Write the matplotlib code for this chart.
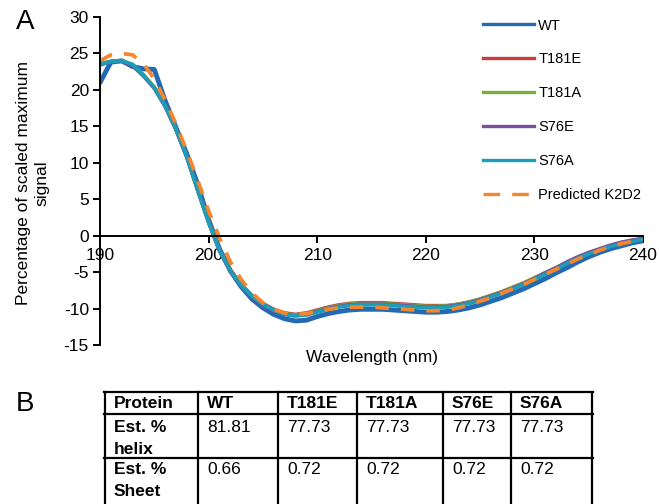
import matplotlib.pyplot as plt
from matplotlib.lines import Line2D

plt.rcParams['font.family'] = ['Liberation Sans', 'DejaVu Sans']
plt.rcParams['axes.unicode_minus'] = False

wavelength = list(range(190, 241))

wt = [21.0, 23.8, 24.0, 23.2, 22.9, 22.8, 18.5, 14.8, 11.2, 7.0,
      2.2, -1.8, -4.8, -7.0, -8.7, -9.9, -10.8, -11.4, -11.7, -11.6,
      -11.1, -10.7, -10.4, -10.2, -10.1, -10.1, -10.1, -10.2, -10.3, -10.4,
      -10.5, -10.5, -10.4, -10.2, -9.9, -9.5, -9.0, -8.5, -7.9, -7.3,
      -6.6, -5.9, -5.1, -4.4, -3.6, -2.9, -2.3, -1.8, -1.4, -1.0, -0.7]

t181e = [23.6, 23.9, 24.0, 23.4, 22.0, 20.3, 17.8, 14.6, 10.8, 6.3,
         2.0, -1.9, -4.7, -6.7, -8.2, -9.3, -10.1, -10.6, -10.8, -10.6,
         -10.2, -9.8, -9.5, -9.3, -9.2, -9.2, -9.2, -9.3, -9.4, -9.5,
         -9.6, -9.6, -9.6, -9.4, -9.1, -8.7, -8.2, -7.7, -7.1, -6.5,
         -5.8, -5.1, -4.4, -3.7, -3.0, -2.4, -1.9, -1.4, -1.0, -0.7, -0.4]

t181a = [23.5, 23.9, 24.0, 23.5, 22.1, 20.4, 17.8, 14.6, 10.8, 6.2,
         1.9, -2.0, -4.8, -6.8, -8.3, -9.4, -10.2, -10.7, -10.9, -10.7,
         -10.3, -9.9, -9.6, -9.4, -9.3, -9.3, -9.3, -9.4, -9.5, -9.6,
         -9.7, -9.7, -9.6, -9.4, -9.1, -8.7, -8.2, -7.7, -7.1, -6.5,
         -5.8, -5.1, -4.4, -3.7, -3.0, -2.4, -1.9, -1.4, -1.0, -0.7, -0.4]

s76e = [23.4, 23.9, 23.9, 23.3, 21.9, 20.2, 17.7, 14.5, 10.7, 6.2,
        1.8, -2.1, -4.9, -6.9, -8.4, -9.5, -10.3, -10.8, -11.0, -10.8,
        -10.4, -10.0, -9.7, -9.5, -9.4, -9.4, -9.4, -9.5, -9.6, -9.7,
        -9.8, -9.8, -9.7, -9.5, -9.2, -8.8, -8.3, -7.8, -7.2, -6.6,
        -5.9, -5.1, -4.4, -3.6, -2.9, -2.3, -1.8, -1.3, -0.9, -0.6, -0.4]

s76a = [23.5, 23.9, 24.0, 23.5, 22.0, 20.3, 17.8, 14.6, 10.8, 6.2,
        1.8, -2.0, -4.8, -6.8, -8.3, -9.4, -10.2, -10.8, -11.0, -10.9,
        -10.5, -10.1, -9.8, -9.6, -9.5, -9.5, -9.5, -9.6, -9.7, -9.8,
        -9.9, -9.9, -9.8, -9.6, -9.3, -8.9, -8.4, -7.9, -7.3, -6.7,
        -6.0, -5.3, -4.6, -3.8, -3.1, -2.5, -2.0, -1.5, -1.1, -0.8, -0.5]

k2d2 = [24.0, 24.8, 25.0, 24.8, 23.6, 21.5, 18.6, 15.3, 11.6, 7.6,
        3.4, -0.3, -3.6, -6.0, -7.9, -9.2, -10.1, -10.6, -10.8, -10.7,
        -10.4, -10.1, -9.9, -9.8, -9.8, -9.8, -9.9, -10.0, -10.1, -10.2,
        -10.3, -10.3, -10.2, -9.9, -9.5, -9.0, -8.5, -7.9, -7.3, -6.7,
        -6.0, -5.3, -4.6, -3.9, -3.2, -2.6, -2.0, -1.5, -1.1, -0.8, -0.5]

series = [("WT", wt, "#2469b3"), ("T181E", t181e, "#cc3a3b"),
          ("T181A", t181a, "#78ad3f"), ("S76E", s76e, "#7a4f9c"),
          ("S76A", s76a, "#1c9db8")]

table_cols = ["Protein", "WT", "T181E", "T181A", "S76E", "S76A"]
helix = ["81.81", "77.73", "77.73", "77.73", "77.73"]
sheet = ["0.66", "0.72", "0.72", "0.72", "0.72"]

W, H = 659, 504
fig = plt.figure(figsize=(W / 100, H / 100), dpi=100)

ax = fig.add_axes([100 / W, 1 - 345 / H, 543 / W, 328 / H])
for name, vals, col in series:
    lw = 3.5 if name == "WT" else 2.6
    ax.plot(wavelength, vals, color=col, lw=lw, solid_capstyle='round')
ax.plot(wavelength, k2d2, color="#f5862c", lw=2.7, dashes=(3.6, 3.2))

ax.set_xlim(190, 240)
ax.set_ylim(-15, 30)
ax.set_xticks(range(190, 241, 10))
ax.set_yticks(range(-15, 31, 5))
ax.spines['top'].set_visible(False)
ax.spines['right'].set_visible(False)
ax.spines['bottom'].set_position(('data', 0))
for s in ('left', 'bottom'):
    ax.spines[s].set_linewidth(1.4)
ax.tick_params(direction='out', length=5, width=1.4, labelsize=12.5)
ax.tick_params(axis='x', pad=4)
ax.tick_params(axis='y', pad=3)
ax.set_xlabel("Wavelength (nm)", fontsize=12.5)
ax.xaxis.set_label_coords(0.5, -0.015)
fig.text(33 / W, 1 - 183 / H, "Percentage of scaled maximum\nsignal",
         fontsize=12.5, rotation=90, ha='center', va='center',
         multialignment='center', linespacing=1.3)

handles = [Line2D([], [], color=c, lw=2.4) for _, _, c in series]
handles.append(Line2D([], [], color="#f5862c", lw=2.4, dashes=(5, 3.6)))
labels = [n for n, _, _ in series] + ["Predicted K2D2"]
fig.legend(handles, labels, loc='upper left',
           bbox_to_anchor=(483 / W, 1 - 18.5 / H), frameon=False,
           fontsize=10.5, handlelength=3.5, handletextpad=0.3,
           labelspacing=1.36, borderpad=0, borderaxespad=0)

fig.text(25 / W, 1 - 22 / H, "A", fontsize=20, ha='center', va='center')
fig.text(25 / W, 1 - 404 / H, "B", fontsize=20, ha='center', va='center')

# table B drawn in pixel coordinates
tx = fig.add_axes([0, 0, 1, 1])
tx.set_xlim(0, W)
tx.set_ylim(H, 0)
tx.axis('off')
col_x = [105, 198, 278, 357, 443, 511, 592]
row_y = [392, 414, 458, 510]
for x in col_x:
    tx.plot([x, x], [row_y[0], row_y[-1]], color='black', lw=1.6)
for y in row_y[:-1]:
    tx.plot([col_x[0] - 0.6, col_x[-1] + 0.6], [y, y], color='black', lw=1.6)
fs = 12.5
for i, t in enumerate(table_cols):
    tx.text(col_x[i] + 9, 404, t, fontsize=fs, fontweight='bold', va='center')
tx.text(col_x[0] + 9, 428, "Est. %", fontsize=fs, fontweight='bold', va='center')
tx.text(col_x[0] + 9, 449, "helix", fontsize=fs, fontweight='bold', va='center')
tx.text(col_x[0] + 9, 470, "Est. %", fontsize=fs, fontweight='bold', va='center')
tx.text(col_x[0] + 9, 492, "Sheet", fontsize=fs, fontweight='bold', va='center')
for i in range(5):
    tx.text(col_x[i + 1] + 9, 428, helix[i], fontsize=fs, va='center')
    tx.text(col_x[i + 1] + 9, 470, sheet[i], fontsize=fs, va='center')

fig.savefig("out.png", dpi=100)
